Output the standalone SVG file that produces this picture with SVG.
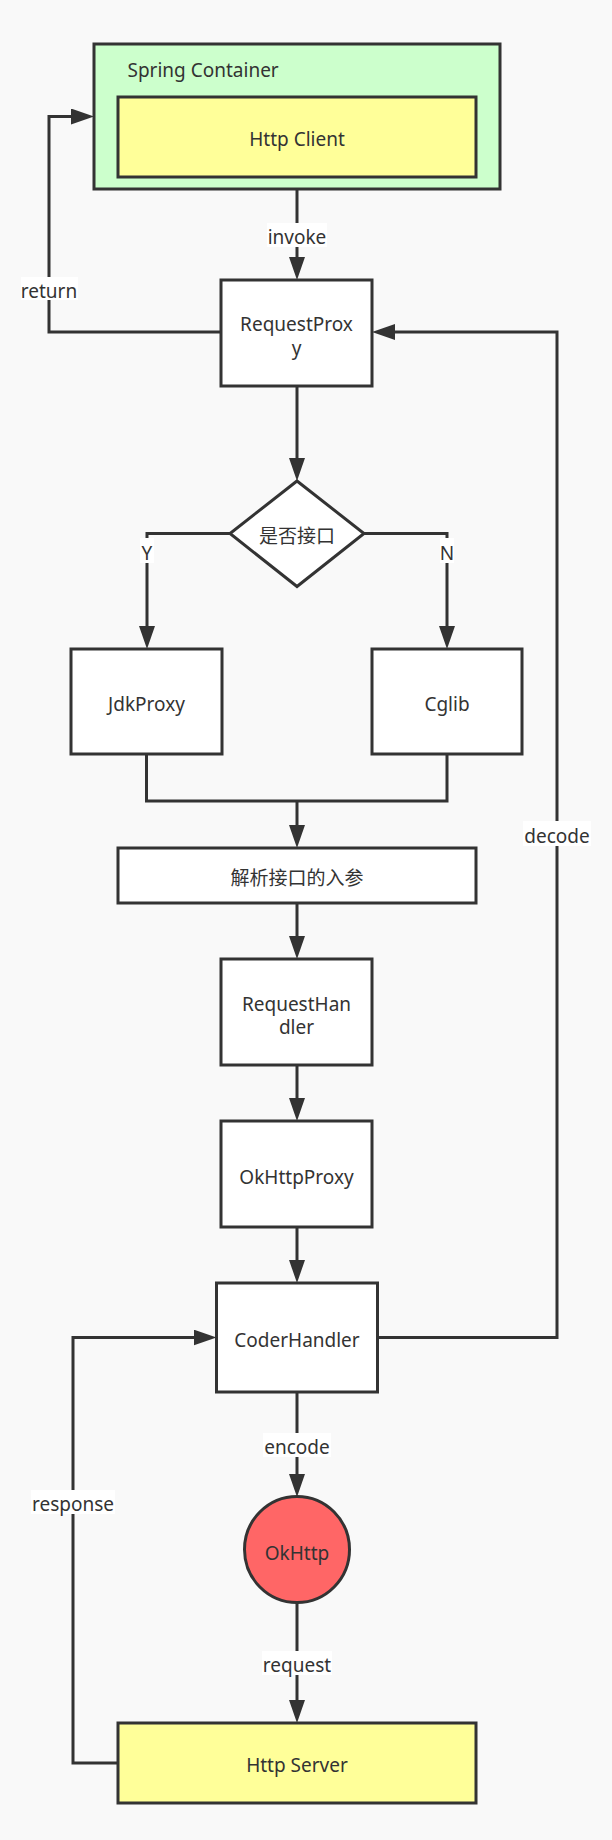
<svg xmlns="http://www.w3.org/2000/svg" width="612" height="1840" viewBox="0 0 612 1840">
<style>
.box{stroke:#333;stroke-width:3;fill:#fff}
.t{font-family:"Noto Sans","Noto Sans CJK SC",sans-serif;font-size:19px;fill:#333;text-anchor:middle}
.c{fill:none;stroke:#333;stroke-width:3}
.lb{fill:#fff}
</style>
<defs>
<marker id="arr" markerUnits="userSpaceOnUse" markerWidth="23" markerHeight="16" refX="13" refY="8" orient="auto" viewBox="0 0 23 16"><path d="M0,0 L23,8 L0,16 z" fill="#333"/></marker>
</defs>
<rect width="612" height="1840" fill="#f9f9f9"/>
<g id="connectors">
<path class="c" d="M297,189 V270" marker-end="url(#arr)"/>
<path class="c" d="M221,332 H49 V116.5 H84" marker-end="url(#arr)"/>
<path class="c" d="M297,386 V471" marker-end="url(#arr)"/>
<path class="c" d="M230,533.5 H147 V639" marker-end="url(#arr)"/>
<path class="c" d="M364,533.5 H447 V639" marker-end="url(#arr)"/>
<path class="c" d="M146.5,754 V801 H447 V754"/>
<path class="c" d="M297,801 V838" marker-end="url(#arr)"/>
<path class="c" d="M297,903 V949" marker-end="url(#arr)"/>
<path class="c" d="M297,1065 V1111" marker-end="url(#arr)"/>
<path class="c" d="M297,1227 V1273" marker-end="url(#arr)"/>
<path class="c" d="M377.5,1337.5 H557 V332 H382" marker-end="url(#arr)"/>
<path class="c" d="M118,1763 H73 V1337.5 H206.5" marker-end="url(#arr)"/>
<path class="c" d="M297,1392 V1487" marker-end="url(#arr)"/>
<path class="c" d="M297,1602 V1713" marker-end="url(#arr)"/>
<rect class="lb" x="267" y="223" width="60" height="24"/>
<text class="t" x="297" y="244">invoke</text>
<rect class="lb" x="21" y="277" width="57" height="23"/>
<text class="t" x="49" y="298">return</text>
<rect class="lb" x="140" y="538" width="14" height="25"/>
<text class="t" x="147" y="560">Y</text>
<rect class="lb" x="440" y="538" width="14" height="25"/>
<text class="t" x="447" y="560">N</text>
<rect class="lb" x="523" y="821" width="68" height="25"/>
<text class="t" x="557" y="842.5">decode</text>
<rect class="lb" x="31" y="1490" width="84" height="24"/>
<text class="t" x="73" y="1511">response</text>
<rect class="lb" x="263" y="1433" width="68" height="24"/>
<text class="t" x="297" y="1454">encode</text>
<rect class="lb" x="262" y="1651" width="70" height="24"/>
<text class="t" x="297" y="1672">request</text>
</g>
<g id="spring-container">
<rect class="box" x="94" y="44" width="406" height="145" fill="#ccffcc" style="fill:#ccffcc"/>
<text class="t" x="127.5" y="77" style="text-anchor:start">Spring Container</text>
</g>
<g id="http-client">
<rect class="box" x="118" y="97" width="358" height="80" style="fill:#ffff99"/>
<text class="t" x="297" y="145.5">Http Client</text>
</g>
<g id="request-proxy">
<rect class="box" x="221" y="280" width="151" height="106"/>
<text class="t" x="296.5" y="331">RequestProx</text>
<text class="t" x="296.5" y="355">y</text>
</g>
<g id="is-interface">
<polygon class="box" points="297,481 364,533.5 297,586.5 230,533.5"/>
<text class="t" x="297" y="543">是否接口</text>
</g>
<g id="jdk-proxy">
<rect class="box" x="71" y="649" width="151" height="105"/>
<text class="t" x="146.5" y="711">JdkProxy</text>
</g>
<g id="cglib">
<rect class="box" x="372" y="649" width="150" height="105"/>
<text class="t" x="447" y="711">Cglib</text>
</g>
<g id="parse-params">
<rect class="box" x="118" y="848" width="358" height="55"/>
<text class="t" x="297" y="885">解析接口的入参</text>
</g>
<g id="request-handler">
<rect class="box" x="221" y="959" width="151" height="106"/>
<text class="t" x="296.5" y="1011">RequestHan</text>
<text class="t" x="296.5" y="1034">dler</text>
</g>
<g id="okhttp-proxy">
<rect class="box" x="221" y="1121" width="151" height="106"/>
<text class="t" x="296.5" y="1184">OkHttpProxy</text>
</g>
<g id="coder-handler">
<rect class="box" x="216.5" y="1283" width="161" height="109"/>
<text class="t" x="297" y="1347">CoderHandler</text>
</g>
<g id="okhttp">
<ellipse class="box" cx="297" cy="1549.5" rx="52.5" ry="53" style="fill:#ff6666"/>
<text class="t" x="297" y="1560">OkHttp</text>
</g>
<g id="http-server">
<rect class="box" x="118" y="1723" width="358" height="80" style="fill:#ffff99"/>
<text class="t" x="297" y="1772">Http Server</text>
</g>
</svg>
